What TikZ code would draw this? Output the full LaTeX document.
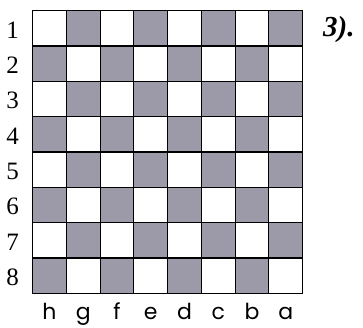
\documentclass[tikz,border=0pt]{standalone}
\usepackage{fontspec}
\setmainfont{Liberation Serif}
\newfontfamily\filefont{Poppins}
\usetikzlibrary{positioning}
\definecolor{boardgray}{HTML}{9C99A9}

\begin{document}
\begin{tikzpicture}[x=1pt, y=-1pt,
  sq/.style={rectangle, draw=black, line width=1.2pt, minimum width=33.75pt, minimum height=35.35pt, inner sep=0pt, anchor=north west},
  rank/.style={font=\fontsize{25}{25}\selectfont, inner sep=0pt},
  file/.style={font=\filefont\fontsize{22}{22}\selectfont, inner sep=0pt, anchor=base},
  tag/.style={font=\bfseries\itshape\fontsize{29}{29}\selectfont, inner sep=0pt, anchor=base west},
]
\useasboundingbox (0,0) rectangle (363,328);
% squares of the board
\foreach \r in {1,...,8} {
  \foreach \f [count=\c from 0] in {h,g,f,e,d,c,b,a} {
    \pgfmathsetmacro\shade{ifthenelse(mod(\r+\c,2)==0,"boardgray","white")}
    \node[sq, fill=\shade] (\f\r) at ({32+\c*33.75},{10+(\r-1)*35.35}) {};
  }
}
% rank numbers
\foreach \r in {1,...,8}
  \node[rank, left=13pt of h\r.west, yshift=-1.5pt] (rank\r) {\r};
% file letters
\foreach \f in {h,g,f,e,d,c,b,a}
  \node[file] (file\f) at ([yshift=-25.5pt]\f8.south) {\f};
\node[tag] (tag) at (323,37) {3).};
\end{tikzpicture}
\end{document}
